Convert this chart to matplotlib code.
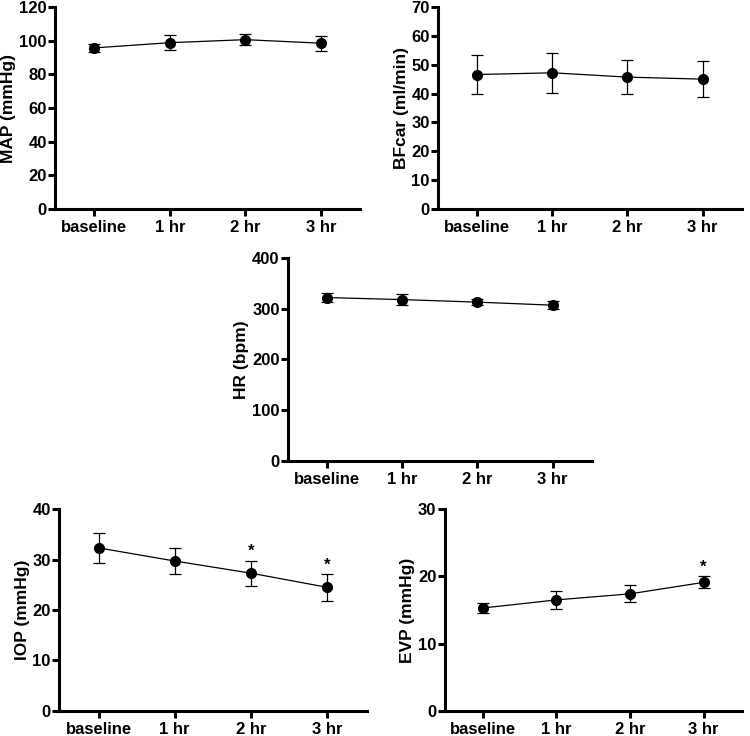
import matplotlib
matplotlib.use("Agg")
import matplotlib.pyplot as plt

plt.rcParams["font.family"] = ["Liberation Sans", "DejaVu Sans"]
plt.rcParams["font.weight"] = "bold"

# Data
timepoints = ["baseline", "1 hr", "2 hr", "3 hr"]

map_mean = [95.7, 98.8, 100.6, 98.5]
map_err = [2.6, 4.5, 3.2, 4.4]

bfcar_mean = [46.6, 47.2, 45.7, 45.0]
bfcar_err = [6.7, 7.0, 6.0, 6.3]

hr_mean = [322, 318, 313, 307]
hr_err = [9, 11, 6, 8]

iop_mean = [32.3, 29.7, 27.3, 24.5]
iop_err = [2.9, 2.55, 2.5, 2.65]
iop_sig = [False, False, True, True]

evp_mean = [15.3, 16.5, 17.4, 19.1]
evp_err = [0.8, 1.3, 1.25, 0.9]
evp_sig = [False, False, False, True]

fig = plt.figure(figsize=(7.5, 7.36), dpi=100)


def panel(rect, mean, err, ylabel, ymax, ystep, sig=None, star_off=0):
    ax = fig.add_axes(rect)
    x = list(range(len(timepoints)))
    ax.errorbar(x, mean, yerr=err, color="black", lw=0.9, marker="o",
                markersize=7, capsize=4, elinewidth=0.9, capthick=0.9)
    if sig is not None:
        for i, s in enumerate(sig):
            if s:
                ax.text(i, mean[i] + err[i] + star_off, "*", ha="center",
                        va="bottom", fontsize=12, fontweight="bold")
    ax.set_xlim(-0.52, 3.52)
    ax.set_ylim(0, ymax)
    ax.set_yticks(range(0, ymax + 1, ystep))
    ax.set_xticks(x)
    ax.set_xticklabels(timepoints)
    ax.set_ylabel(ylabel, fontsize=12.5, fontweight="bold", labelpad=2)
    for side in ["top", "right"]:
        ax.spines[side].set_visible(False)
    for side in ["left", "bottom"]:
        ax.spines[side].set_linewidth(2.2)
    ax.tick_params(width=2.2, length=5, labelsize=12, pad=1)
    ax.tick_params(axis="x", pad=3)
    for lab in ax.get_xticklabels() + ax.get_yticklabels():
        lab.set_fontweight("bold")
    return ax


panel([0.0733, 0.716, 0.407, 0.2745], map_mean, map_err, "MAP (mmHg)", 120, 20)
panel([0.584, 0.716, 0.405, 0.2745], bfcar_mean, bfcar_err, "BFcar (ml/min)", 70, 10)
panel([0.384, 0.3736, 0.405, 0.2759], hr_mean, hr_err, "HR (bpm)", 400, 100)
panel([0.0787, 0.034, 0.410, 0.2744], iop_mean, iop_err, "IOP (mmHg)", 40, 10,
      sig=iop_sig, star_off=0.3)
panel([0.593, 0.034, 0.396, 0.2744], evp_mean, evp_err, "EVP (mmHg)", 30, 10,
      sig=evp_sig, star_off=0.3)

plt.savefig("out.png", dpi=100)
